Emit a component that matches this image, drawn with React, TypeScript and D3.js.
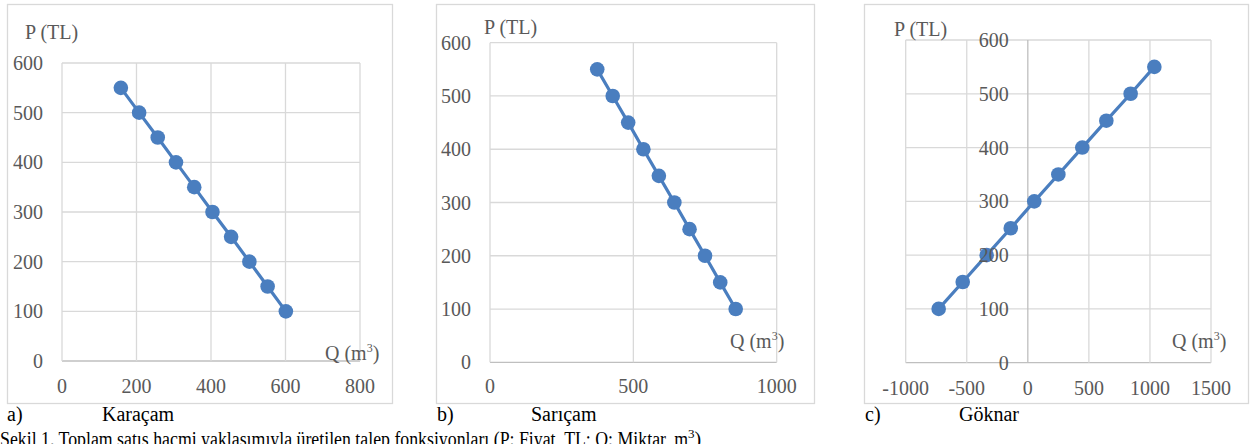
import React from "react";
import * as d3 from "d3";

// fiyat (P) degerleri, her uc panelde ayni
const priceP = [550, 500, 450, 400, 350, 300, 250, 200, 150, 100];
// miktar (Q) degerleri
const karacamQ = [158, 207, 257, 306, 355, 404, 454, 503, 552, 601];
const saricamQ = [374, 428, 482, 535, 589, 643, 696, 750, 803, 857];
const goknarQ = [1036, 842, 643, 446, 250, 53, -140, -337, -533, -730];

const yTicks = [0, 100, 200, 300, 400, 500, 600];
const xTicksA = [0, 200, 400, 600, 800];
const xTicksB = [0, 500, 1000];
const xTicksC = [-1000, -500, 0, 500, 1000, 1500];

const panelLetters = ["a)", "b)", "c)"];
const speciesNames = ["Karaçam", "Sarıçam", "Göknar"];
const caption =
  "Şekil 1. Toplam satış hacmi yaklaşımıyla üretilen talep fonksiyonları (P: Fiyat, TL; Q: Miktar, m";

const BLUE = "#4a7ebf";
const GRID = "#d9d9d9";
const AXIS = "#bfbfbf";
const TXT = "#595959";
const FONT = "'Liberation Serif', 'DejaVu Serif', serif";

type PanelProps = {
  box: [number, number, number, number];
  plot: [number, number, number, number];
  xTicks: number[];
  q: number[];
  pLabel: [number, number];
  qLabel: [number, number];
  xLabelY: number;
  letterX: number;
  nameX: number;
  idx: number;
};

const Panel = ({ box, plot, xTicks, q, pLabel, qLabel, xLabelY, letterX, nameX, idx }: PanelProps) => {
  const [x0, y0, x1, y1] = plot;
  const x = d3.scaleLinear().domain(d3.extent(xTicks) as [number, number]).range([x0, x1]);
  const y = d3.scaleLinear().domain([0, 600]).range([y1, y0]);
  const pts = q.map((d, i) => [x(d), y(priceP[i])] as [number, number]);
  const line = d3.line();
  const yAxisX = x(Math.max(xTicks[0], 0));

  return (
    <g>
      <rect x={box[0] + 0.5} y={box[1] + 0.5} width={box[2] - box[0]} height={box[3] - box[1]}
        fill="#fff" stroke={GRID} strokeWidth={1.3} />
      {yTicks.map((t) => (
        <line key={"h" + t} x1={x0} x2={x1} y1={y(t)} y2={y(t)} stroke={t === 0 ? AXIS : GRID} strokeWidth={1.3} />
      ))}
      {xTicks.map((t) => (
        <line key={"v" + t} x1={x(t)} x2={x(t)} y1={y0} y2={y1}
          stroke={t === 0 && xTicks[0] < 0 ? AXIS : GRID} strokeWidth={1.3} />
      ))}
      <path d={line(pts) || ""} fill="none" stroke={BLUE} strokeWidth={3.2} />
      {pts.map((p, i) => (
        <circle key={i} cx={p[0]} cy={p[1]} r={7.3} fill={BLUE} />
      ))}
      {yTicks.map((t) => (
        <text key={"yl" + t} x={yAxisX - 19} y={y(t) + 7} textAnchor="end" fontSize={20} fill={TXT}>
          {t}
        </text>
      ))}
      {xTicks.map((t) => (
        <text key={"xl" + t} x={x(t)} y={xLabelY} textAnchor="middle" fontSize={20} fill={TXT}>
          {t}
        </text>
      ))}
      <text x={pLabel[0]} y={pLabel[1]} fontSize={20} fill={TXT}>P (TL)</text>
      <text x={qLabel[0]} y={qLabel[1]} fontSize={20} fill={TXT}>
        Q (m<tspan fontSize={12} dy={-8}>3</tspan><tspan dy={8}>)</tspan>
      </text>
      <text x={letterX} y={421} fontSize={20} fill="#000">{panelLetters[idx]}</text>
      <text x={nameX} y={421} fontSize={20} fill="#000">{speciesNames[idx]}</text>
    </g>
  );
};

const App = () => {
  return (
    <svg width={1250} height={444} style={{ position: "absolute", left: 0, top: 0, fontFamily: FONT }}>
      <rect width={1250} height={444} fill="#fff" />
      <Panel idx={0} box={[7, 4, 392, 403]} plot={[62, 63, 360, 361]} xTicks={xTicksA} q={karacamQ}
        pLabel={[25, 39]} qLabel={[325, 360]} xLabelY={393} letterX={7} nameX={102} />
      <Panel idx={1} box={[436, 4, 814, 403]} plot={[490, 42.7, 776.7, 362.3]} xTicks={xTicksB} q={saricamQ}
        pLabel={[484, 34]} qLabel={[730, 348]} xLabelY={393} letterX={437} nameX={531} />
      <Panel idx={2} box={[864, 4, 1248, 403]} plot={[905.7, 40, 1211, 362.7]} xTicks={xTicksC} q={goknarQ}
        pLabel={[894, 36]} qLabel={[1172, 348]} xLabelY={395} letterX={865} nameX={959} />
      <text x={0} y={446} fontSize={20} fill="#000" textLength={688} lengthAdjust="spacingAndGlyphs">
        {caption}
      </text>
      <text x={688} y={446} fontSize={20} fill="#000">
        <tspan fontSize={13} dy={-8}>3</tspan>
        <tspan dy={8}>)</tspan>
      </text>
    </svg>
  );
};

export default App;
